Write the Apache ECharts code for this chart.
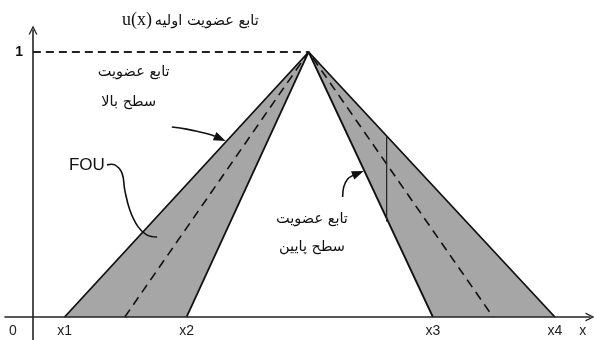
<!DOCTYPE html>
<html><head><meta charset="utf-8">
<script src="https://cdn.jsdelivr.net/npm/echarts@6/dist/echarts.min.js"></script>
<style>html,body{margin:0;padding:0;background:#fff}#c{width:594px;height:340px}</style>
</head><body><div id="c"></div>
<script>
// ---- data (x in arbitrary units, y = membership degree) ----
const upperMF   = [[5.7, 0], [49.5, 1], [93.7, 0]];   // upper membership function (outer)
const lowerMF   = [[27.6, 0], [49.5, 1], [71.8, 0]];  // lower membership function (inner)
const primaryMF = [[16.5, 0], [49.5, 1], [82.6, 0]];  // primary membership function (dashed)
const heightRef = [[0, 1], [49.5, 1]];                // dashed line at u = 1
const verticalMark = [[63.5, 0.68], [63.5, 0.36]];    // vertical cut line in the right band

const xTickValues = [-3.6, 5.7, 27.6, 71.8, 93.7, 98.7];
const xTickLabels = ['0', 'x1', 'x2', 'x3', 'x4', 'x'];
const yTickValues = [1];
const yTickLabels = ['1'];

// annotation texts and their anchor points (data coordinates)
const titleMain = 'تابع عضویت اولیه';
const titleFn = 'u(x)';
const upperText = ['تابع عضویت', 'سطح بالا'];
const lowerText = ['تابع عضویت', 'سطح پایین'];
const fouText = 'FOU';

const titleFnPos = [18.7, 1.121];
const titleMainPos = [31.2, 1.117];
const upperTextPos = [[18.1, 0.925], [17.2, 0.811]];
const lowerTextPos = [[50.1, 0.370], [50.1, 0.262]];
const fouPos = [9.7, 0.574];

const upperArrow = [[24.95, 0.717], [27.6, 0.709], [30.0, 0.698], [32.1, 0.687], [34.6, 0.664]];
const fouCurve = [[13.3, 0.574], [14.7, 0.574], [16.0, 0.543], [16.5, 0.479], [17.4, 0.404], [18.9, 0.340], [20.5, 0.309], [22.3, 0.302]];
const lowerArrow = [[55.6, 0.453], [55.8, 0.491], [56.5, 0.521], [57.6, 0.536], [59.4, 0.551]];

// ---- chart ----
const ARROW = 'path://M0,10 L5,0 L10,10 L8.4,10 L5,3 L1.6,10 Z';
const chart = echarts.init(document.getElementById('c'), null, {renderer: 'canvas'});
const BLACK = '#111';
const GRAY = '#a6a6a6';

chart.setOption({
  animation: false,
  backgroundColor: '#fff',
  grid: {left: 5, right: 4, top: 30, bottom: 0, containLabel: false, outerBoundsMode: 'none'},
  xAxis: {
    type: 'value', min: -5, max: 100, z: 5, position: 'bottom', offset: -23,
    axisLine: {show: true, onZero: false, symbol: ['none', ARROW], symbolSize: [11, 9],
      lineStyle: {color: '#222', width: 1.6}},
    axisTick: {show: false}, splitLine: {show: false},
    axisLabel: {customValues: xTickValues,
      formatter: v => xTickLabels[xTickValues.indexOf(v)],
      fontSize: 14, color: '#222', fontFamily: 'Liberation Sans', margin: 7}
  },
  yAxis: {
    type: 'value', min: -0.0868, max: 1.0830, z: 5, position: 'left', offset: -28,
    axisLine: {show: true, onZero: false, symbol: ['none', ARROW], symbolSize: [13, 9],
      lineStyle: {color: '#222', width: 1.6}},
    axisTick: {show: false}, splitLine: {show: false},
    axisLabel: {customValues: yTickValues,
      formatter: v => yTickLabels[yTickValues.indexOf(v)],
      fontSize: 14, fontWeight: 'bold', color: '#111', fontFamily: 'Liberation Sans', margin: 10}
  },
  series: [
    {type: 'line', data: upperMF, symbol: 'none', z: 2,
      lineStyle: {color: BLACK, width: 1.8}, areaStyle: {color: GRAY, opacity: 1}},
    {type: 'line', data: lowerMF, symbol: 'none', z: 3,
      lineStyle: {color: BLACK, width: 1.8}, areaStyle: {color: '#fff', opacity: 1}},
    {type: 'line', data: primaryMF, symbol: 'none', z: 4,
      lineStyle: {color: BLACK, width: 1.6, type: [9, 6]}},
    {type: 'line', data: heightRef, symbol: 'none', z: 4,
      lineStyle: {color: '#222', width: 1.8, type: [8, 5]}},
    {type: 'line', data: verticalMark, symbol: 'none', z: 4,
      lineStyle: {color: '#222', width: 1.2}}
  ]
});

// ---- annotations placed through the chart's coordinate system ----
function P(p) { return chart.convertToPixel({xAxisIndex: 0, yAxisIndex: 0}, p); }
function textEl(str, pos, font) {
  const q = P(pos);
  return {type: 'text', z: 10, style: {text: str, x: q[0], y: q[1], font: font, fill: BLACK,
    align: 'center', verticalAlign: 'middle'}};
}
function curveEls(points, withHead) {
  const pts = points.map(P);
  const els = [];
  let linePts = pts;
  if (withHead) {
    const tip = pts[pts.length - 1], prev = pts[pts.length - 2];
    const dx = tip[0] - prev[0], dy = tip[1] - prev[1];
    const L = Math.hypot(dx, dy), ux = dx / L, uy = dy / L;
    const hl = 12, hw = 4.5;
    const base = [tip[0] - ux * hl, tip[1] - uy * hl];
    els.push({type: 'polygon', z: 11, shape: {points: [tip,
      [base[0] - uy * hw, base[1] + ux * hw], [base[0] + uy * hw, base[1] - ux * hw]]},
      style: {fill: BLACK}});
    linePts = pts.slice(0, -1).concat([base]);
  }
  els.unshift({type: 'polyline', z: 10, shape: {points: linePts, smooth: 0.4},
    style: {stroke: BLACK, lineWidth: 1.6, fill: null}});
  return els;
}

const AR = '14.5px "DejaVu Sans"';
const graphics = [
  textEl(titleFn, titleFnPos, '18px "Liberation Serif"'),
  textEl(titleMain, titleMainPos, AR),
  textEl(upperText[0], upperTextPos[0], AR),
  textEl(upperText[1], upperTextPos[1], AR),
  textEl(lowerText[0], lowerTextPos[0], AR),
  textEl(lowerText[1], lowerTextPos[1], AR),
  textEl(fouText, fouPos, '17px "Liberation Sans"')
].concat(curveEls(upperArrow, true), curveEls(fouCurve, false), curveEls(lowerArrow, true));

chart.setOption({graphic: graphics});
</script>
</body></html>
